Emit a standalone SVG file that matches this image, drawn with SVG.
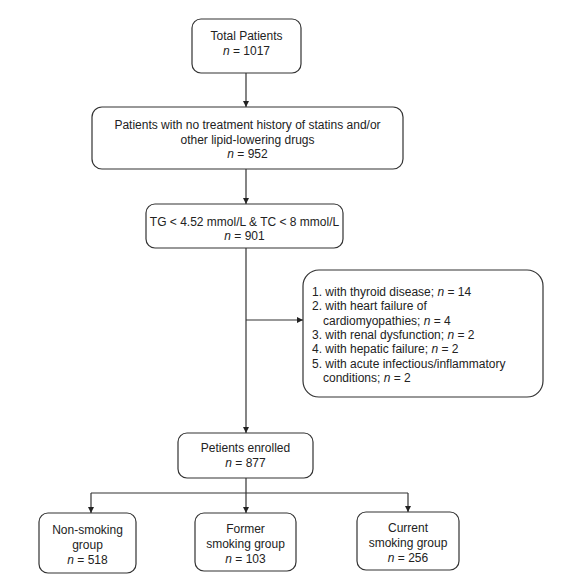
<svg xmlns="http://www.w3.org/2000/svg" width="580" height="578" viewBox="0 0 580 578">
<defs>
<style>
.box{fill:#fff;stroke:#333;stroke-width:1.2}
.t{font-family:"Liberation Sans",Arial,sans-serif;font-size:12px;fill:#222}
.c{text-anchor:middle}
.i{font-style:italic}
.ln{stroke:#333;stroke-width:1.2;fill:none}
</style>
<marker id="ah" viewBox="0 0 10 10" refX="10" refY="5" markerWidth="6" markerHeight="6" orient="auto" markerUnits="userSpaceOnUse">
<path d="M0,0 L10,5 L0,10 z" fill="#222"/>
</marker>
</defs>
<rect width="580" height="578" fill="#fff"/>
<g id="connectors">
<line class="ln" x1="246" y1="73" x2="246" y2="107" marker-end="url(#ah)"/>
<line class="ln" x1="246" y1="169" x2="246" y2="204" marker-end="url(#ah)"/>
<line class="ln" x1="246" y1="248" x2="246" y2="433" marker-end="url(#ah)"/>
<line class="ln" x1="246" y1="320" x2="303" y2="320" marker-end="url(#ah)"/>
<line class="ln" x1="246" y1="478" x2="246" y2="493"/>
<line class="ln" x1="91" y1="493" x2="408" y2="493"/>
<line class="ln" x1="91" y1="493" x2="91" y2="513" marker-end="url(#ah)"/>
<line class="ln" x1="246" y1="493" x2="246" y2="513" marker-end="url(#ah)"/>
<line class="ln" x1="408" y1="493" x2="408" y2="512" marker-end="url(#ah)"/>
</g>
<g id="total">
<rect class="box" x="192" y="19" width="109" height="54" rx="9"/>
<text class="t c" x="246.5" y="40">Total Patients</text>
<text class="t c" x="246.5" y="55"><tspan class="i">n</tspan> = 1017</text>
</g>
<g id="notreat">
<rect class="box" x="92" y="107" width="311" height="62" rx="10"/>
<text class="t c" x="247.5" y="129">Patients with no treatment history of statins and/or</text>
<text class="t c" x="247.5" y="144">other lipid-lowering drugs</text>
<text class="t c" x="247.5" y="158"><tspan class="i">n</tspan> = 952</text>
</g>
<g id="tgtc">
<rect class="box" x="146" y="204" width="197" height="44" rx="9"/>
<text class="t c" x="244.5" y="226">TG &lt; 4.52 mmol/L &amp; TC &lt; 8 mmol/L</text>
<text class="t c" x="244.5" y="240"><tspan class="i">n</tspan> = 901</text>
</g>
<g id="excluded">
<rect class="box" x="303" y="270" width="240" height="127" rx="16"/>
<text class="t" x="312" y="296">1. with thyroid disease; <tspan class="i">n</tspan> = 14</text>
<text class="t" x="312" y="310.3">2. with heart failure of</text>
<text class="t" x="323" y="324.6">cardiomyopathies; <tspan class="i">n</tspan> = 4</text>
<text class="t" x="312" y="338.9">3. with renal dysfunction; <tspan class="i">n</tspan> = 2</text>
<text class="t" x="312" y="353.2">4. with hepatic failure; <tspan class="i">n</tspan> = 2</text>
<text class="t" x="312" y="367.5">5. with acute infectious/inflammatory</text>
<text class="t" x="323" y="381.8">conditions; <tspan class="i">n</tspan> = 2</text>
</g>
<g id="enrolled">
<rect class="box" x="178" y="433" width="135" height="45" rx="9"/>
<text class="t c" x="245.5" y="452">Petients enrolled</text>
<text class="t c" x="245.5" y="467"><tspan class="i">n</tspan> = 877</text>
</g>
<g id="nonsmoking">
<rect class="box" x="39" y="513" width="97" height="60" rx="9"/>
<text class="t c" x="87.5" y="534">Non-smoking</text>
<text class="t c" x="87.5" y="549">group</text>
<text class="t c" x="87.5" y="564"><tspan class="i">n</tspan> = 518</text>
</g>
<g id="former">
<rect class="box" x="195" y="513" width="101" height="58" rx="9"/>
<text class="t c" x="245.5" y="533">Former</text>
<text class="t c" x="245.5" y="548">smoking group</text>
<text class="t c" x="245.5" y="563"><tspan class="i">n</tspan> = 103</text>
</g>
<g id="current">
<rect class="box" x="357" y="512" width="102" height="58" rx="9"/>
<text class="t c" x="408" y="532">Current</text>
<text class="t c" x="408" y="547">smoking group</text>
<text class="t c" x="408" y="562"><tspan class="i">n</tspan> = 256</text>
</g>
</svg>
